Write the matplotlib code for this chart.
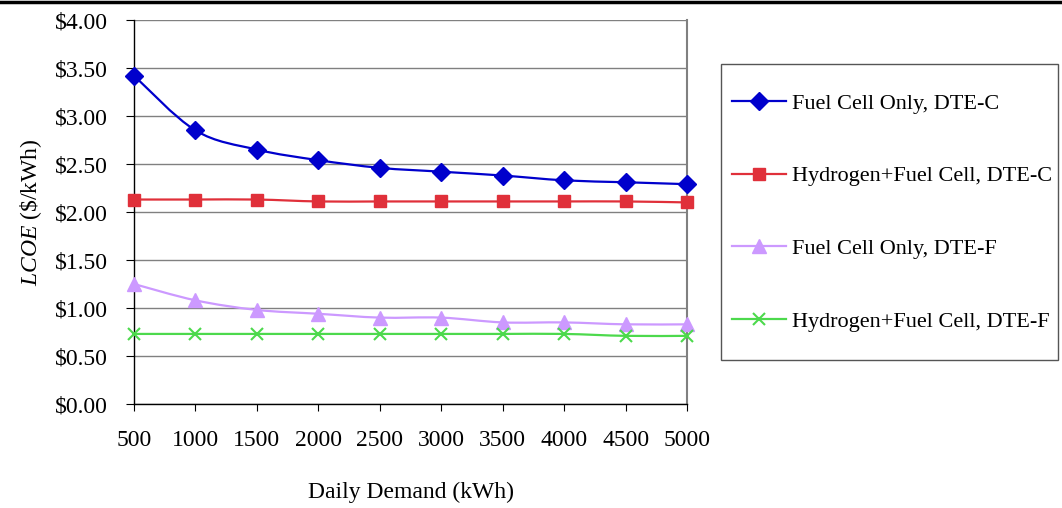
import matplotlib.pyplot as plt
from matplotlib.path import Path
from matplotlib.patches import PathPatch, Rectangle
from matplotlib.lines import Line2D

plt.rcParams['font.family'] = 'Liberation Serif'
plt.rcParams['mathtext.fontset'] = 'custom'
plt.rcParams['mathtext.rm'] = 'Liberation Serif'
plt.rcParams['mathtext.it'] = 'Liberation Serif:italic'

demanda = [500, 1000, 1500, 2000, 2500, 3000, 3500, 4000, 4500, 5000]

fc_dte_c = [3.42, 2.85, 2.65, 2.54, 2.46, 2.42, 2.38, 2.33, 2.31, 2.29]
h2fc_dte_c = [2.13, 2.13, 2.13, 2.11, 2.11, 2.11, 2.11, 2.11, 2.11, 2.10]
fc_dte_f = [1.25, 1.08, 0.98, 0.94, 0.90, 0.90, 0.85, 0.85, 0.83, 0.83]
h2fc_dte_f = [0.73, 0.73, 0.73, 0.73, 0.73, 0.73, 0.73, 0.73, 0.71, 0.71]

rotulos = ['Fuel Cell Only, DTE-C', 'Hydrogen+Fuel Cell, DTE-C',
           'Fuel Cell Only, DTE-F', 'Hydrogen+Fuel Cell, DTE-F']
cores = ['#0000CC', '#E0303A', '#CC99FF', '#4CD94C']


def curva_suave(xs, ys):
    # linha suavizada estilo Excel (Catmull-Rom -> Bezier)
    verts = [(xs[0], ys[0])]
    codes = [Path.MOVETO]
    n = len(xs)
    for i in range(n - 1):
        i0 = max(i - 1, 0)
        i3 = min(i + 2, n - 1)
        c1 = (xs[i] + (xs[i + 1] - xs[i0]) / 6, ys[i] + (ys[i + 1] - ys[i0]) / 6)
        c2 = (xs[i + 1] - (xs[i3] - xs[i]) / 6, ys[i + 1] - (ys[i3] - ys[i]) / 6)
        verts += [c1, c2, (xs[i + 1], ys[i + 1])]
        codes += [Path.CURVE4] * 3
    return Path(verts, codes)


fig = plt.figure(figsize=(10.62, 5.08), dpi=100)
ax = fig.add_axes([0.1262, 0.2047, 0.5207, 0.7559])

x = list(range(len(demanda)))
series = [fc_dte_c, h2fc_dte_c, fc_dte_f, h2fc_dte_f]
marcadores = [dict(marker='D', ms=9), dict(marker='s', ms=8.5),
              dict(marker='^', ms=10), dict(marker='x', ms=9, mew=1.5)]

handles = []
for ys, cor, mk, rot in zip(series, cores, marcadores, rotulos):
    ax.add_patch(PathPatch(curva_suave(x, ys), facecolor='none', edgecolor=cor,
                           lw=1.6, zorder=3, clip_on=False))
    ax.plot(x, ys, linestyle='none', color=cor, zorder=4, clip_on=False, **mk)
    handles.append(Line2D([], [], color=cor, lw=1.6, **mk))

ax.set_xlim(0, len(demanda) - 1)
ax.set_ylim(0, 4)
ax.set_yticks([i * 0.5 for i in range(9)])
ax.set_yticklabels(['$%.2f' % (i * 0.5) for i in range(9)])
ax.set_xticks(x)
ax.set_xticklabels([str(d) for d in demanda])
ax.tick_params(axis='y', direction='out', length=6, width=0.8, pad=13, labelsize=17)
ax.tick_params(axis='x', direction='out', length=5, width=0.8, pad=14, labelsize=17)
ax.grid(axis='y', color='#808080', lw=1.0)
ax.set_axisbelow(True)
ax.spines['top'].set_visible(False)
ax.spines['right'].set_color('#808080')
ax.spines['right'].set_linewidth(1.5)
ax.spines['left'].set_linewidth(1.0)
ax.spines['bottom'].set_linewidth(1.0)

ax.set_xlabel('Daily Demand (kWh)', fontsize=17, labelpad=22)
ax.set_ylabel(r'$\mathit{LCOE}$ (\$/kWh)', fontsize=17, labelpad=8)

# caixa da legenda desenhada à parte
fig.add_artist(Rectangle((0.679, 0.2913), 0.317, 0.5827, transform=fig.transFigure,
                         facecolor='white', edgecolor='#555555', lw=1.0))
leg = fig.legend(handles, rotulos, loc='center left', bbox_to_anchor=(0.689, 0.5817),
                 fontsize=16, frameon=False, labelspacing=2.35, handlelength=2.45,
                 handletextpad=0.25, borderpad=0, borderaxespad=0)

fig.add_artist(Line2D([0, 1], [0.997, 0.997], color='black', lw=2.5,
                      transform=fig.transFigure))

fig.savefig('out.png', dpi=100)
